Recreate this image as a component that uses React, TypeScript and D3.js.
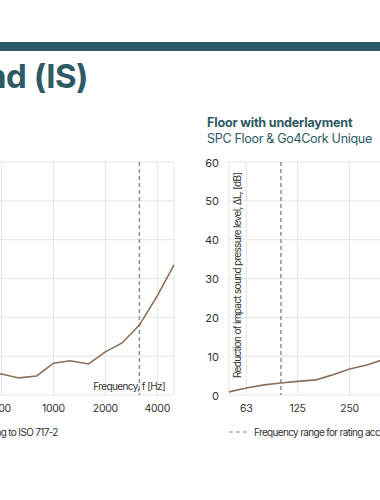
import React from "react";
import * as d3 from "d3";

const freqs = [50, 63, 80, 100, 125, 160, 200, 250, 315, 400, 500, 630, 800, 1000, 1250, 1600, 2000, 2500, 3150, 4000, 5000];
const leftValues = [2.0, 2.5, 3.0, 3.5, 4.0, 4.5, 5.0, 5.2, 5.5, 5.6, 5.4, 4.4, 4.9, 8.2, 8.8, 8.0, 11.1, 13.4, 18.0, 25.5, 33.5];
const rightValues = [0.8, 1.8, 2.6, 3.1, 3.5, 3.9, 5.2, 6.7, 7.7, 9.3, 11.5, 14.5, 18.0, 22.0, 26.0, 29.5, 33.0, 36.5, 40.0, 43.0, 46.0];
const xTicks = [63, 125, 250, 500, 1000, 2000, 4000];
const yTicks = [0, 10, 20, 30, 40, 50, 60];
const ratingRange = [100, 3150];

const TEAL = "#2e5a63";
const LINE = "#8c6f5a";
const GRID = "#e3e5e6";
const DASH = "#7f969b";
const TEXT = "#333";
const FONT = "Inter, 'Noto Sans', sans-serif";

const y = d3.scaleLinear().domain([0, 60]).range([395, 162]);

function Chart({ x0, values, title, subtitle }: { x0: number; values: number[]; title: string; subtitle: string }) {
  const x = d3.scaleLog().domain([50, 5000]).range([x0, x0 + 345]);
  const line = d3.line<number>().x((_, i) => x(freqs[i])).y((d) => y(d));
  const [r0, r1] = x.range();
  return (
    <g>
      <text x={x0 - 22} y={127} fontFamily={FONT} fontWeight={700} fontSize={12.6} letterSpacing={-0.2} fill={TEAL}>{title}</text>
      <text x={x0 - 22} y={143} fontFamily={FONT} fontSize={12.6} letterSpacing={-0.35} fill={TEAL}>{subtitle}</text>
      {yTicks.map((t) => (
        <line key={"h" + t} x1={r0} x2={r1} y1={y(t)} y2={y(t)} stroke={GRID} strokeWidth={1} />
      ))}
      {[50, ...xTicks, 5000].map((t) => (
        <line key={"v" + t} x1={x(t)} x2={x(t)} y1={y(0)} y2={y(60)} stroke={GRID} strokeWidth={1} />
      ))}
      {ratingRange.map((f) => (
        <line key={"d" + f} x1={x(f)} x2={x(f)} y1={y(60)} y2={y(0)} stroke={DASH} strokeWidth={1.5} strokeDasharray="4,3" />
      ))}
      {yTicks.map((t) => (
        <text key={"yl" + t} x={x0 - 10} y={y(t) + 4.5} textAnchor="end" fontFamily={FONT} fontSize={11} fill={TEXT}>{t}</text>
      ))}
      {xTicks.map((t) => (
        <text key={"xl" + t} x={x(t)} y={412} textAnchor="middle" fontFamily={FONT} fontSize={10.5} letterSpacing={-0.3} fill={TEXT}>{t}</text>
      ))}
      <text transform={`translate(${x0 + 12},378) rotate(-90)`} fontFamily={FONT} fontSize={10} letterSpacing={-0.68} fill={TEXT}>
        Reduction of impact sound pressure level, ΔL, [dB]
      </text>
      <text x={r1 - 9} y={390} textAnchor="end" fontFamily={FONT} fontSize={10} letterSpacing={-0.6} fill={TEXT}>Frequency, f [Hz]</text>
      <path d={line(values) || ""} fill="none" stroke={LINE} strokeWidth={1.6} />
      <line x1={x0} x2={x0 + 19} y1={432} y2={432} stroke={DASH} strokeWidth={1.2} strokeDasharray="4,3" />
      <text x={x0 + 25} y={435.5} fontFamily={FONT} fontSize={10} letterSpacing={-0.66} fill={TEXT}>
        Frequency range for rating according to ISO 717-2
      </text>
    </g>
  );
}

export default function App() {
  return (
    <svg width={380} height={500} style={{ position: "absolute", left: 0, top: 0, background: "#fff" }}>
      <rect x={0} y={42} width={380} height={9} fill={TEAL} />
      <text x={88} y={88} textAnchor="end" fontFamily={FONT} fontWeight={700} fontSize={33} letterSpacing={-0.5} fill={TEAL}>Impact sound (IS)</text>
      <Chart x0={-171} values={leftValues} title="Floor without underlayment" subtitle="SPC Floor" />
      <Chart x0={229} values={rightValues} title="Floor with underlayment" subtitle="SPC Floor & Go4Cork Unique" />
    </svg>
  );
}
